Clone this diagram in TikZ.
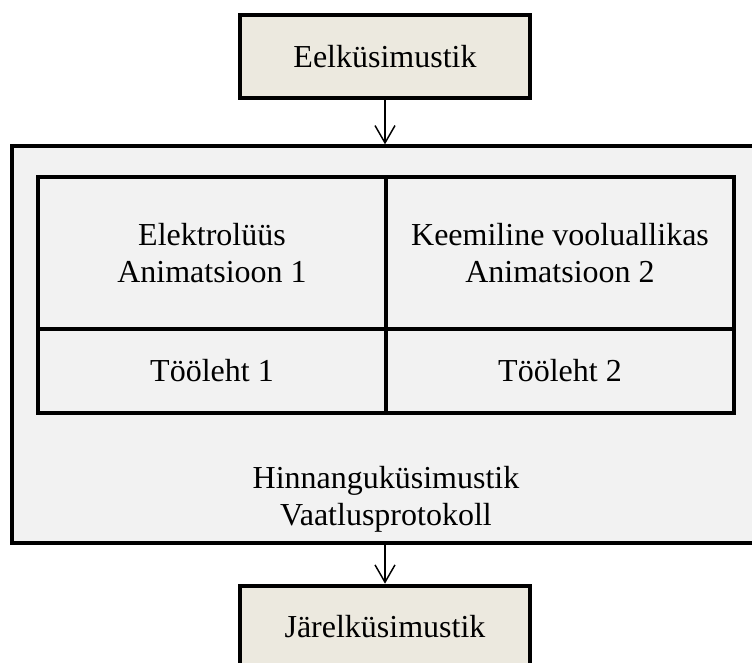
\documentclass[tikz,border=0pt]{standalone}
\usepackage{fontspec}
\setmainfont{Liberation Serif}
\usetikzlibrary{arrows.meta,positioning}
\definecolor{beige}{RGB}{236,233,223}
\definecolor{pale}{RGB}{242,242,242}
\tikzset{
  box/.style={draw,line width=3pt,fill=beige,minimum width=217pt,minimum height=62pt,inner sep=0pt},
  cell/.style={draw,line width=2.6pt,fill=pale,inner sep=0pt,align=center,minimum width=261pt},
  flow/.style={-{Straight Barb[length=13pt,width=15pt]},line width=1.1pt}
}
\begin{document}
\begin{tikzpicture}[x=0.75pt,y=-0.75pt,font=\fontsize{24}{27.75}\selectfont]
            \useasboundingbox (0,0) rectangle (752,662);
            \clip (0,0) rectangle (752,662);
            \node[box] (pre) at (385,56.5) {Eelküsimustik};
            \node[draw,line width=2.5pt,fill=pale,minimum width=561pt,minimum height=297.75pt] (main) at (386,344.5) {};
            % animatsioonid ja töölehed
            \node[cell,minimum height=114pt] (anim1) at (212,253) {Elektrolüüs\\Animatsioon 1};
            \node[cell,minimum height=114pt] (anim2) at (560,253) {Keemiline vooluallikas\\Animatsioon 2};
            \node[cell,minimum height=63pt] (work1) at (212,371) {Tööleht 1};
            \node[cell,minimum height=63pt] (work2) at (560,371) {Tööleht 2};
            \node[align=center] (eval) at (386,499) {Hinnanguküsimustik\\Vaatlusprotokoll};
            \node[box] (post) at (385,627) {Järelküsimustik};
            \draw[flow] (pre.south) -- (pre.south |- main.north);
            \draw[flow] (pre.south |- main.south) -- (post.north);
        \end{tikzpicture}
\end{document}
